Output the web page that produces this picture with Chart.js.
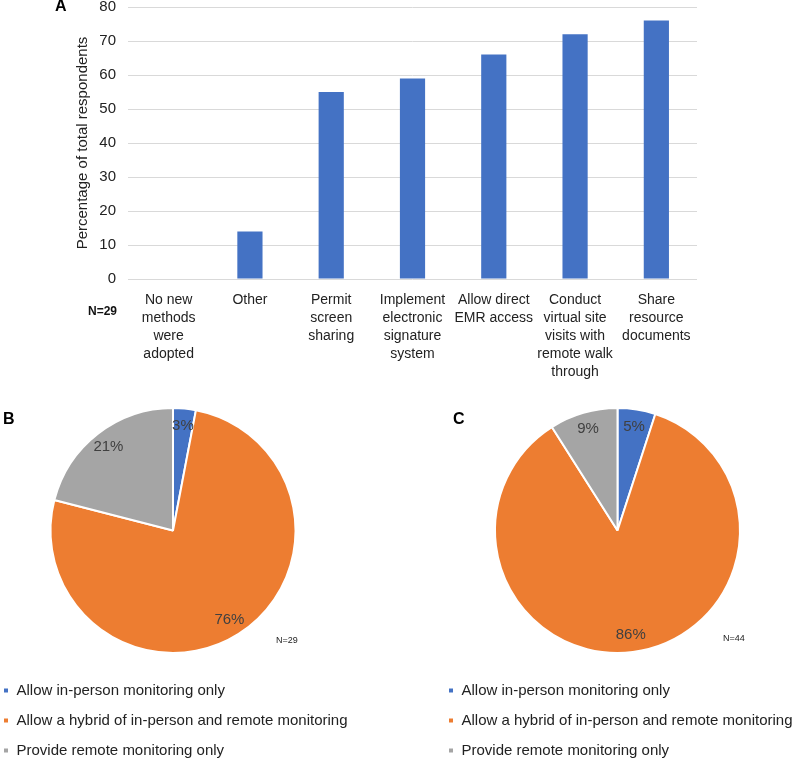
<!DOCTYPE html>
<html>
<head>
<meta charset="utf-8">
<script src="https://cdn.jsdelivr.net/npm/chart.js@4/dist/chart.umd.min.js"></script>
<style>
  html, body { margin: 0; padding: 0; background: #fff; overflow: hidden; }
  body { position: relative; width: 794px; height: 758px; }
  .box { position: absolute; }
  .tag { position: absolute; font-family: "Liberation Sans", Arial, sans-serif; font-weight: bold; font-size: 16px; color: #000; }
  .n { position: absolute; font-family: "Liberation Sans", Arial, sans-serif; font-size: 9px; color: #222; }
  .nbold { position: absolute; font-family: "Liberation Sans", Arial, sans-serif; font-weight: bold; font-size: 12px; color: #111; }
</style>
</head>
<body>
<div class="box" style="left:0; top:-14px; width:794px; height:399px;"><canvas id="bar_chart"></canvas></div>
<div class="tag" style="left:55px; top:-3px;">A</div>
<div class="nbold" style="left:88px; top:304px;">N=29</div>

<div class="box" style="left:-12px; top:405px; width:370px; height:363px;"><canvas id="pie_b"></canvas></div>
<div class="box" style="left:433px; top:405px; width:369px; height:363px;"><canvas id="pie_c"></canvas></div>
<div class="tag" style="left:3px; top:410px;">B</div>
<div class="tag" style="left:453px; top:410px;">C</div>
<div class="n" style="left:276px; top:635px;">N=29</div>
<div class="n" style="left:723px; top:633px;">N=44</div>

<script>
// panel A
const methodLabels = [
  ["No new", "methods", "were", "adopted"],
  "Other",
  ["Permit", "screen", "sharing"],
  ["Implement", "electronic", "signature", "system"],
  ["Allow direct", "EMR access"],
  ["Conduct", "virtual site", "visits with", "remote walk", "through"],
  ["Share", "resource", "documents"]
];
const methodValues = [0, 14, 55, 59, 66, 72, 76];
const yTicks = [0, 10, 20, 30, 40, 50, 60, 70, 80];

// panels B and C
const monitoringLabels = [
  "Allow in-person monitoring only",
  "Allow a hybrid of in-person and remote monitoring",
  "Provide remote monitoring only"
];
const monitoringB = [3, 76, 21];
const monitoringC = [5, 86, 9];
const sliceColors = ["#4472C4", "#ED7D31", "#A5A5A5"];

const plain = "'Liberation Sans', Arial, sans-serif";

const sliceLabels = {
  id: "sliceLabels",
  afterDatasetsDraw(chart) {
    const ctx = chart.ctx;
    const values = chart.data.datasets[0].data;
    ctx.save();
    ctx.font = "15px " + plain;
    ctx.fillStyle = "#404040";
    ctx.textAlign = "center";
    ctx.textBaseline = "middle";
    chart.getDatasetMeta(0).data.forEach(function (arc, i) {
      const p = arc.getProps(["x", "y", "startAngle", "endAngle", "outerRadius"], true);
      const mid = (p.startAngle + p.endAngle) / 2;
      const r = p.outerRadius * 0.86;
      ctx.fillText(values[i] + "%", p.x + Math.cos(mid) * r, p.y + Math.sin(mid) * r);
    });
    ctx.restore();
  }
};

document.addEventListener("DOMContentLoaded", function () {
  new Chart("bar_chart", {
    type: "bar",
    data: {
      labels: methodLabels,
      datasets: [{
        data: methodValues,
        backgroundColor: "#4472C4",
        barPercentage: 0.31,
        categoryPercentage: 1
      }]
    },
    options: {
      responsive: true,
      maintainAspectRatio: false,
      animation: false,
      layout: { padding: { left: 70, right: 97, top: 0, bottom: 6 } },
      plugins: { legend: { display: false }, tooltip: { enabled: false } },
      scales: {
        x: {
          grid: { display: false },
          border: { display: false },
          ticks: {
            autoSkip: false, maxRotation: 0, padding: 4, color: "#222",
            font: { family: plain, size: 14, lineHeight: "18px" }
          },
          afterFit: function (scale) { scale.height = 100; }
        },
        y: {
          min: 0, max: 80,
          afterBuildTicks: function (scale) { scale.ticks = yTicks.map(v => ({ value: v })); },
          grid: { color: "#d9d9d9", drawTicks: false },
          border: { display: false },
          ticks: { padding: 12, color: "#222", font: { family: plain, size: 15 } },
          title: {
            display: true, text: "Percentage of total respondents", color: "#222",
            font: { family: plain, size: 15, lineHeight: "18px" }, padding: 4
          },
          afterFit: function (scale) { scale.width = 58; }
        }
      }
    }
  });

  function pieOptions() {
    return {
      responsive: true,
      maintainAspectRatio: false,
      animation: false,
      layout: { padding: { top: 2, bottom: 0 } },
      plugins: {
        tooltip: { enabled: false },
        legend: {
          position: "bottom",
          align: "start",
          title: { display: true, text: "", padding: 0, font: { size: 10, lineHeight: "14px" } },
          labels: {
            boxWidth: 6, boxHeight: 6, padding: 15, color: "#222",
            font: { family: plain, size: 15 }
          }
        }
      }
    };
  }

  [["pie_b", monitoringB], ["pie_c", monitoringC]].forEach(function (p) {
    new Chart(p[0], {
      type: "pie",
      data: {
        labels: monitoringLabels,
        datasets: [{
          data: p[1],
          backgroundColor: sliceColors,
          borderColor: "#ffffff",
          borderWidth: 2
        }]
      },
      options: pieOptions(),
      plugins: [sliceLabels]
    });
  });
});
</script>
</body>
</html>
